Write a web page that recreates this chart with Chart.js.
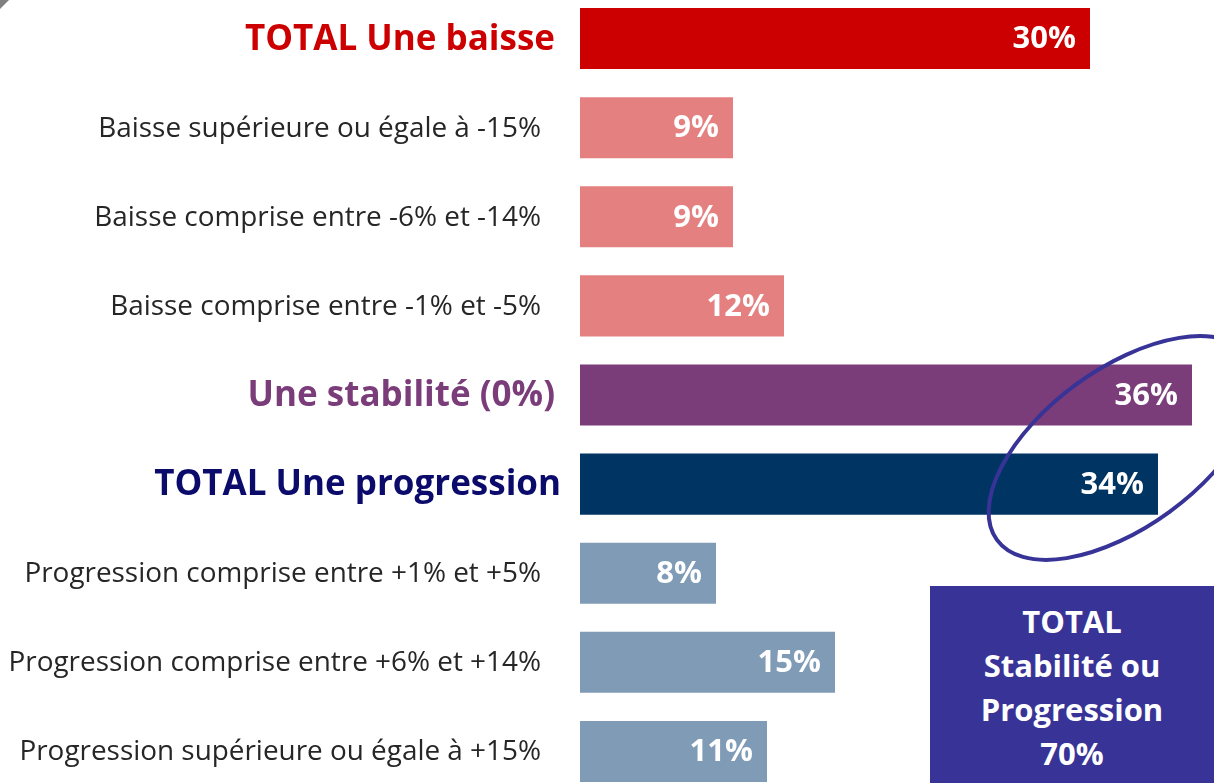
<!DOCTYPE html>
<html>
<head>
<meta charset="utf-8">
<script src="https://cdn.jsdelivr.net/npm/chart.js@4.4.1/dist/chart.umd.min.js"></script>
<style>
	html, body { margin: 0; padding: 0; background: #fff; }
	body { width: 1214px; height: 783px; overflow: hidden; position: relative; font-family: 'Open Sans', sans-serif; }
	#wrap { position: absolute; left: 0; top: -6px; width: 1260px; height: 802px; }
	#corner {
		position: absolute; left: 0; top: 0; width: 0; height: 0;
		border-top: 9px solid #808080; border-right: 9px solid transparent;
	}
	#total-box {
		position: absolute; left: 930px; top: 586px; width: 290px; height: 200px;
		background: #383497; color: #fff; font-weight: 700; font-size: 31px;
		line-height: 44px; text-align: center; padding-top: 13px; box-sizing: border-box;
		padding-right: 6px;
	}
</style>
</head>
<body>
<div id="wrap"><canvas id="chart" width="1260" height="802"></canvas></div>
<div id="corner"></div>
<div id="total-box">TOTAL<br>Stabilité ou<br>Progression<br>70%</div>
<script>
/* Evolution des ventes : baisse / stabilité / progression */
const categories = [
	'TOTAL Une baisse',
	'Baisse supérieure ou égale à -15%',
	'Baisse comprise entre -6% et -14%',
	'Baisse comprise entre -1% et -5%',
	'Une stabilité (0%)',
	'TOTAL Une progression',
	'Progression comprise entre +1% et +5%',
	'Progression comprise entre +6% et +14%',
	'Progression supérieure ou égale à +15%',
];
const values = [30, 9, 9, 12, 36, 34, 8, 15, 11];
const kinds = ['baisse', 'sub-baisse', 'sub-baisse', 'sub-baisse', 'stable', 'progression', 'sub-prog', 'sub-prog', 'sub-prog'];

const styles = {
	'baisse': { bar: '#CC0000', text: '#CC0000', font: '700 35px "Open Sans"', right: 555 },
	'sub-baisse': { bar: '#E48180', text: '#262626', font: '400 27.9px "Open Sans"', right: 541 },
	'stable': { bar: '#7B3C7A', text: '#7B3C7A', font: '700 35px "Open Sans"', right: 555 },
	'progression': { bar: '#003462', text: '#0B0B6B', font: '700 35px "Open Sans"', right: 561 },
	'sub-prog': { bar: '#7F9BB5', text: '#262626', font: '400 27.9px "Open Sans"', right: 541 },
};

const labelsPlugin = {
	id: 'sideLabels',
	afterDraw(chart) {
		const ctx = chart.ctx;
		const y = chart.scales.y;
		const meta = chart.getDatasetMeta(0);
		ctx.save();
		ctx.textBaseline = 'middle';
		categories.forEach((cat, i) => {
			const st = styles[kinds[i]];
			const py = y.getPixelForValue(i);
			// category label on the left
			ctx.font = st.font;
			ctx.fillStyle = st.text;
			ctx.textAlign = 'right';
			ctx.fillText(cat, st.right, py + 1);
			// value inside the bar
			const bar = meta.data[i];
			ctx.font = '700 31px "Open Sans"';
			ctx.fillStyle = '#fff';
			ctx.fillText(values[i] + '%', bar.x - 14, py + 1);
		});
		// ellipse around stabilité + progression
		ctx.beginPath();
		ctx.ellipse(1123, 454, 156, 79, -0.63, 0, Math.PI * 2);
		ctx.lineWidth = 4;
		ctx.strokeStyle = '#383497';
		ctx.stroke();
		ctx.restore();
	},
};

new Chart(document.getElementById('chart').getContext('2d'), {
	type: 'bar',
	data: {
		labels: categories,
		datasets: [{
			data: values,
			backgroundColor: kinds.map(k => styles[k].bar),
			borderWidth: 0,
			barPercentage: 0.685,
			categoryPercentage: 1,
		}],
	},
	options: {
		indexAxis: 'y',
		responsive: false,
		animation: false,
		layout: { padding: 0 },
		plugins: { legend: { display: false }, tooltip: { enabled: false } },
		scales: {
			x: { min: 0, max: 40, display: false },
			y: {
				grid: { display: false },
				border: { display: false },
				ticks: { display: false },
				afterFit(scale) { scale.width = 580; },
			},
		},
	},
	plugins: [labelsPlugin],
});
</script>
</body>
</html>
